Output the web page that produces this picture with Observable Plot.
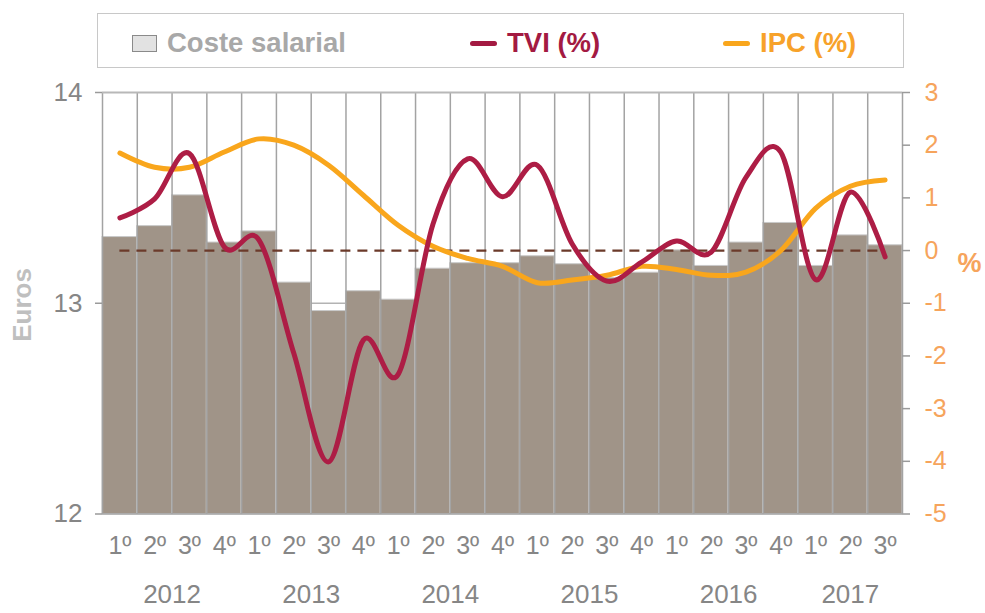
<!DOCTYPE html>
<html>
<head>
<meta charset="utf-8">
<script src="https://cdn.jsdelivr.net/npm/d3@7"></script>
<script src="https://cdn.jsdelivr.net/npm/@observablehq/plot@0.6"></script>
<style>
  body { margin: 0; background: #fff; font-family: "Liberation Sans", Arial, sans-serif; }
  #wrap { position: relative; width: 985px; height: 613px; }
  #legend { position: absolute; left: 97px; top: 13px; width: 807px; height: 55px; border: 1.5px solid #c8c8c8; box-sizing: border-box; background: #fff; }
  .item { position: absolute; top: 3px; height: 52px; display: flex; align-items: center; font-weight: bold; font-size: 27.5px; white-space: nowrap; }
  .sq { width: 25px; height: 17px; background: #e2e2e2; border: 1.5px solid #8a8a8a; box-sizing: border-box; margin-right: 10px; }
  .ln { width: 27px; height: 5px; border-radius: 3px; margin-right: 10px; }
  #euros { position: absolute; left: 22px; top: 305px; transform: translate(-50%, -50%) rotate(-90deg); font-weight: bold; font-size: 26px; color: #bfbfbf; white-space: nowrap; }
</style>
</head>
<body>
<div id="wrap">
  <div id="chart"></div>
  <div id="euros">Euros</div>
  <div id="legend">
    <div class="item" style="left:34px;color:#a8a8a8"><div class="sq"></div>Coste salarial</div>
    <div class="item" style="left:372px;color:#a31a42"><div class="ln" style="background:#a31a42"></div>TVI (%)</div>
    <div class="item" style="left:625px;color:#f7a22a"><div class="ln" style="background:#f9a61c"></div>IPC (%)</div>
  </div>
</div>
<script>
// ---- data ----
const yearLabels = ["2012", "2013", "2014", "2015", "2016", "2017"];
const quartersPerYear = [4, 4, 4, 4, 4, 3];
const quarterLabels = ["1º", "2º", "3º", "4º"];
const coste = [13.314, 13.366, 13.512, 13.288, 13.341, 13.098, 12.963, 13.057, 13.017, 13.164, 13.19, 13.19,
               13.223, 13.185, 13.12, 13.145, 13.251, 13.177, 13.288, 13.381, 13.177, 13.322, 13.275];
const tvi = [0.62, 0.98, 1.84, 0.07, 0.2, -1.95, -4.01, -1.70, -2.35, 0.5, 1.74, 1.02,
             1.62, 0.13, -0.58, -0.22, 0.18, -0.03, 1.39, 1.87, -0.55, 1.11, -0.12];
const ipc = [1.85, 1.58, 1.58, 1.87, 2.12, 2.0, 1.62, 1.05, 0.48, 0.08, -0.15, -0.30,
             -0.61, -0.56, -0.47, -0.30, -0.36, -0.47, -0.41, 0.0, 0.80, 1.22, 1.34];
const euroTicks = [12, 13, 14];
const pctTicks = [-5, -4, -3, -2, -1, 0, 1, 2, 3];

// ---- derived tables ----
const rows = [];
const yearRows = [];
yearLabels.forEach((y, k) => {
  const start = rows.length;
  for (let q = 0; q < quartersPerYear[k]; q++) {
    const i = rows.length;
    rows.push({i, year: y, q: quarterLabels[q], coste: coste[i], tvi: tvi[i], ipc: ipc[i]});
  }
  yearRows.push({year: y, center: (start + rows.length - 1) / 2});
});
const n = rows.length;
const pMin = -5, pMax = 3, eMin = 12, eMax = 14;
const toE = p => eMin + (p - pMin) * (eMax - eMin) / (pMax - pMin);
const bounds = d3.range(n + 1).map(k => k - 0.5);

const W = 985, H = 613, mL = 102, mR = 83, mT = 92, mB = 99.5;
const px = (W - mL - mR) / n; // pixels per x unit
const leftTick = 7 / px, rightTick = 8 / px;

const gray = "#868686";
const orange = "#f6a45c";
const plot = Plot.plot({
  width: W,
  height: H,
  marginLeft: mL,
  marginRight: mR,
  marginTop: mT,
  marginBottom: mB,
  x: {domain: [-0.5, n - 0.5], axis: null},
  y: {domain: [eMin, eMax], axis: null},
  style: {fontFamily: "Liberation Sans, Arial, sans-serif", background: "transparent", overflow: "visible"},
  marks: [
    Plot.ruleY([13], {x1: -0.5, x2: n - 0.5, stroke: "#b3b3b3", strokeWidth: 1.5}),
    Plot.rect(rows, {x1: d => d.i - 0.5, x2: d => d.i + 0.5, y1: eMin, y2: "coste", fill: "#a09488", stroke: "#c9c9c9", strokeWidth: 1}),
    Plot.ruleX(bounds, {y1: eMin, y2: eMax, stroke: "#a3a3a3", strokeWidth: 1.5}),
    Plot.ruleY([eMax], {x1: -0.5, x2: n - 0.5, stroke: "#b8b8b8", strokeWidth: 2}),
    Plot.ruleY([eMin], {x1: -0.5, x2: n - 0.5, stroke: "#a0a0a0", strokeWidth: 1.5}),
    // left axis ticks + labels
    Plot.ruleY(euroTicks, {x1: -0.5 - leftTick, x2: -0.5, stroke: "#9a9a9a", strokeWidth: 1.5}),
    Plot.text(euroTicks, {y: d => d, text: d => String(d), frameAnchor: "left", textAnchor: "end", dx: -20, fill: gray, fontSize: 26}),
    // right axis ticks + labels (% mapped onto euro scale)
    Plot.ruleY(pctTicks, {y: toE, x1: n - 0.5, x2: n - 0.5 + rightTick, stroke: "#9a9a9a", strokeWidth: 1.5}),
    Plot.text(pctTicks, {y: toE, text: d => String(d), frameAnchor: "right", textAnchor: "start", dx: 22, fill: orange, fontSize: 25}),
    // x labels
    Plot.text(rows, {x: "i", text: "q", frameAnchor: "bottom", dy: 40, fill: gray, fontSize: 25}),
    Plot.text(yearRows, {x: "center", text: "year", frameAnchor: "bottom", dy: 89, fill: gray, fontSize: 26}),
    // right axis title
    Plot.text(["%"], {text: d => d, frameAnchor: "right", dx: 79, dy: -40, fill: orange, fontWeight: "bold", fontSize: 27}),
    // zero line
    Plot.ruleY([0], {y: toE, x1: 0, x2: n - 1, stroke: "#6b3a2a", strokeWidth: 2.2, strokeDasharray: "10,7"}),
    // lines
    Plot.line(rows, {x: "i", y: d => toE(d.ipc), curve: "cardinal", stroke: "#f9a61c", strokeWidth: 5, strokeLinecap: "round"}),
    Plot.line(rows, {x: "i", y: d => toE(d.tvi), curve: "cardinal", stroke: "#ad1d45", strokeWidth: 5, strokeLinecap: "round"})
  ]
});
document.getElementById("chart").appendChild(plot);
</script>
</body>
</html>
